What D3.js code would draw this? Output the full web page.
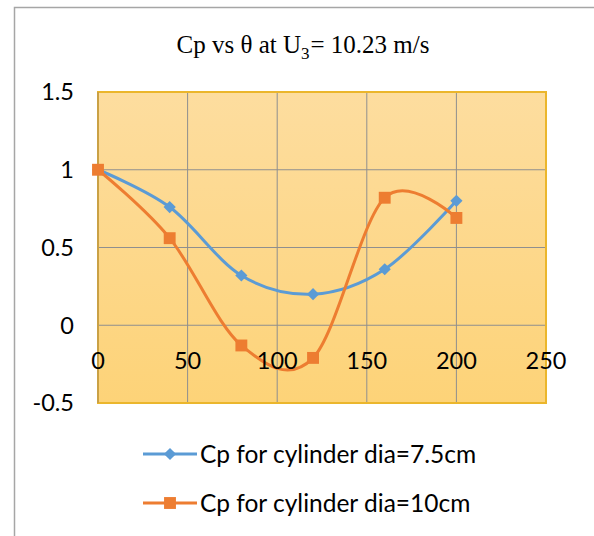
<!DOCTYPE html>
<html>
<head>
<meta charset="utf-8">
<script src="https://cdn.jsdelivr.net/npm/d3@7"></script>
<style>
  body { margin: 0; background: #fff; }
</style>
</head>
<body>
<svg id="chart" width="594" height="536"></svg>
<script>
// values
var theta = [0, 40, 80, 120, 160, 200];
var cp_small = [1, 0.76, 0.32, 0.2, 0.36, 0.8];     // dia = 7.5cm
var cp_large = [1, 0.56, -0.13, -0.21, 0.82, 0.69]; // dia = 10cm
var seriesNames = ["Cp for cylinder dia=7.5cm", "Cp for cylinder dia=10cm"];
var xTicks = [0, 50, 100, 150, 200, 250];
var yTicks = [-0.5, 0, 0.5, 1, 1.5];

var svg = d3.select("#chart");

// outer chart frame (cropped on right/bottom)
svg.append("rect")
    .attr("x", 14.5).attr("y", 7.5)
    .attr("width", 600).attr("height", 560)
    .attr("fill", "#fff")
    .attr("stroke", "#a6a6a6")
    .attr("stroke-width", 1.5);

var plot = {left: 98, right: 546, top: 92, bottom: 403};

var x = d3.scaleLinear().domain([0, 250]).range([plot.left, plot.right]);
var y = d3.scaleLinear().domain([-0.5, 1.5]).range([plot.bottom, plot.top]);

// plot area background gradient
var grad = svg.append("defs").append("linearGradient")
    .attr("id", "bg").attr("x1", 0).attr("y1", 0).attr("x2", 0).attr("y2", 1);
grad.append("stop").attr("offset", "0%").attr("stop-color", "#fddd9f");
grad.append("stop").attr("offset", "100%").attr("stop-color", "#fdd378");

svg.append("rect")
    .attr("x", plot.left).attr("y", plot.top)
    .attr("width", plot.right - plot.left).attr("height", plot.bottom - plot.top)
    .attr("fill", "url(#bg)");

// gridlines
svg.append("g").selectAll("line.h")
    .data(yTicks)
    .enter().append("line")
    .attr("x1", plot.left).attr("x2", plot.right)
    .attr("y1", function(d){ return y(d) }).attr("y2", function(d){ return y(d) })
    .attr("stroke", "#8f8f8f").attr("stroke-width", 1);

svg.append("g").selectAll("line.v")
    .data(xTicks)
    .enter().append("line")
    .attr("x1", function(d){ return x(d) }).attr("x2", function(d){ return x(d) })
    .attr("y1", plot.top).attr("y2", plot.bottom)
    .attr("stroke", "#8f8f8f").attr("stroke-width", 1);

// plot area border
svg.append("rect")
    .attr("x", plot.left).attr("y", plot.top)
    .attr("width", plot.right - plot.left).attr("height", plot.bottom - plot.top)
    .attr("fill", "none")
    .attr("stroke", "#ebb62c").attr("stroke-width", 2);
svg.append("line")
    .attr("x1", plot.left).attr("x2", plot.left)
    .attr("y1", plot.top).attr("y2", plot.bottom)
    .attr("stroke", "#bf9a4e").attr("stroke-width", 1.5);

// title
var title = svg.append("text")
    .attr("x", 303).attr("y", 53)
    .attr("text-anchor", "middle")
    .style("font-family", "'Liberation Serif', 'Times New Roman', serif")
    .style("font-size", "25px")
    .attr("fill", "#000");
title.append("tspan").text("Cp vs θ at U");
title.append("tspan").text("3").attr("dy", 6).style("font-size", "17px");
title.append("tspan").text("= 10.23 m/s").attr("dy", -6).attr("dx", 1);

var tickFont = "Lato, 'Open Sans', sans-serif";

// y tick labels
svg.append("g").selectAll("text")
    .data(yTicks)
    .enter().append("text")
    .attr("x", 74)
    .attr("y", function(d){ return y(d) })
    .attr("dy", "0.36em")
    .attr("text-anchor", "end")
    .style("font-family", tickFont)
    .style("font-size", "23.5px")
    .attr("fill", "#000")
    .text(function(d){ return String(d) });

// series
var curve = d3.line()
    .x(function(d){ return x(d[0]) })
    .y(function(d){ return y(d[1]) })
    .curve(d3.curveCardinal.tension(0));

var blue = "#5b9bd5", orange = "#ed7d31";
var dataSmall = theta.map(function(t, i){ return [t, cp_small[i]] });
var dataLarge = theta.map(function(t, i){ return [t, cp_large[i]] });

svg.append("path")
    .datum(dataSmall)
    .attr("d", curve)
    .attr("fill", "none").attr("stroke", blue).attr("stroke-width", 3);

svg.append("path")
    .datum(dataLarge)
    .attr("d", curve)
    .attr("fill", "none").attr("stroke", orange).attr("stroke-width", 3);

// x tick labels (sit on the series, as in the picture)
svg.append("g").selectAll("text")
    .data(xTicks)
    .enter().append("text")
    .attr("x", function(d){ return x(d) })
    .attr("y", y(0) + 35)
    .attr("dy", "0.36em")
    .attr("text-anchor", "middle")
    .style("font-family", tickFont)
    .style("font-size", "23.5px")
    .attr("fill", "#000")
    .text(function(d){ return d });

var diamond = d3.symbol().type(d3.symbolDiamond2).size(95);
var square = d3.symbol().type(d3.symbolSquare2).size(180);

svg.append("g").selectAll("path")
    .data(dataSmall)
    .enter().append("path")
    .attr("transform", function(d){ return "translate(" + x(d[0]) + "," + y(d[1]) + ")" })
    .attr("d", diamond)
    .attr("fill", blue);

svg.append("g").selectAll("path")
    .data(dataLarge)
    .enter().append("path")
    .attr("transform", function(d){ return "translate(" + x(d[0]) + "," + y(d[1]) + ")" })
    .attr("d", square)
    .attr("fill", orange);

// legend
var legend = svg.append("g").selectAll("g")
    .data(seriesNames)
    .enter().append("g")
    .attr("transform", function(d, i){ return "translate(0," + (454 + i * 49) + ")" });

legend.append("line")
    .attr("x1", 143).attr("x2", 197).attr("y1", 0).attr("y2", 0)
    .attr("stroke", function(d, i){ return i ? orange : blue })
    .attr("stroke-width", 3);

legend.append("path")
    .attr("transform", "translate(170,0)")
    .attr("d", function(d, i){ return i ? square() : diamond() })
    .attr("fill", function(d, i){ return i ? orange : blue });

legend.append("text")
    .attr("x", 200).attr("y", 0).attr("dy", "0.36em")
    .style("font-family", tickFont)
    .style("font-size", "24.5px")
    .attr("fill", "#000")
    .text(function(d){ return d });
</script>
</body>
</html>
